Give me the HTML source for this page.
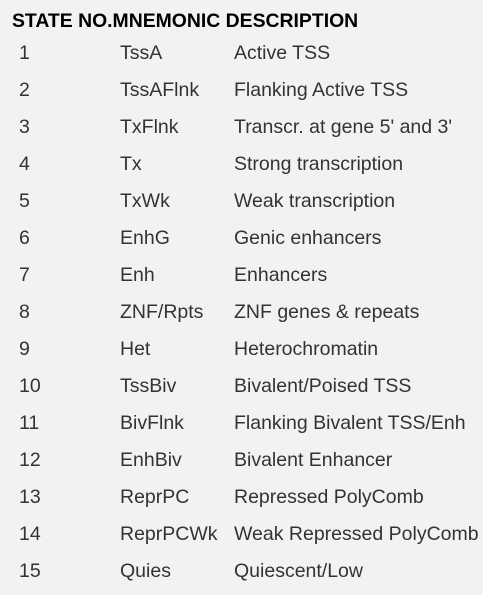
<!DOCTYPE html>
<html><head><style>
body{margin:0;width:483px;height:595px;background:#f2f2f2;position:relative;overflow:hidden;font-family:"Liberation Sans",Arial,sans-serif;}
.h{position:absolute;left:12px;top:10px;font-weight:bold;font-size:19.4px;color:#000;line-height:22px;white-space:nowrap;}
.r{position:absolute;left:0;height:24px;line-height:24px;font-size:19.5px;color:#333;white-space:nowrap;}
.r span{position:absolute;top:0;}
.a{left:19px}.b{left:120px}.c{left:234px}
</style></head><body>
<div class="h">STATE NO.MNEMONIC DESCRIPTION</div>
<div class="r" style="top:41px"><span class="a">1</span><span class="b">TssA</span><span class="c">Active TSS</span></div>
<div class="r" style="top:78px"><span class="a">2</span><span class="b">TssAFlnk</span><span class="c">Flanking Active TSS</span></div>
<div class="r" style="top:115px"><span class="a">3</span><span class="b">TxFlnk</span><span class="c">Transcr. at gene 5' and 3'</span></div>
<div class="r" style="top:152px"><span class="a">4</span><span class="b">Tx</span><span class="c">Strong transcription</span></div>
<div class="r" style="top:189px"><span class="a">5</span><span class="b">TxWk</span><span class="c">Weak transcription</span></div>
<div class="r" style="top:226px"><span class="a">6</span><span class="b">EnhG</span><span class="c">Genic enhancers</span></div>
<div class="r" style="top:263px"><span class="a">7</span><span class="b">Enh</span><span class="c">Enhancers</span></div>
<div class="r" style="top:300px"><span class="a">8</span><span class="b">ZNF/Rpts</span><span class="c">ZNF genes &amp; repeats</span></div>
<div class="r" style="top:337px"><span class="a">9</span><span class="b">Het</span><span class="c">Heterochromatin</span></div>
<div class="r" style="top:374px"><span class="a">10</span><span class="b">TssBiv</span><span class="c">Bivalent/Poised TSS</span></div>
<div class="r" style="top:411px"><span class="a">11</span><span class="b">BivFlnk</span><span class="c">Flanking Bivalent TSS/Enh</span></div>
<div class="r" style="top:448px"><span class="a">12</span><span class="b">EnhBiv</span><span class="c">Bivalent Enhancer</span></div>
<div class="r" style="top:485px"><span class="a">13</span><span class="b">ReprPC</span><span class="c">Repressed PolyComb</span></div>
<div class="r" style="top:522px"><span class="a">14</span><span class="b">ReprPCWk</span><span class="c">Weak Repressed PolyComb</span></div>
<div class="r" style="top:559px"><span class="a">15</span><span class="b">Quies</span><span class="c">Quiescent/Low</span></div>
</body></html>
